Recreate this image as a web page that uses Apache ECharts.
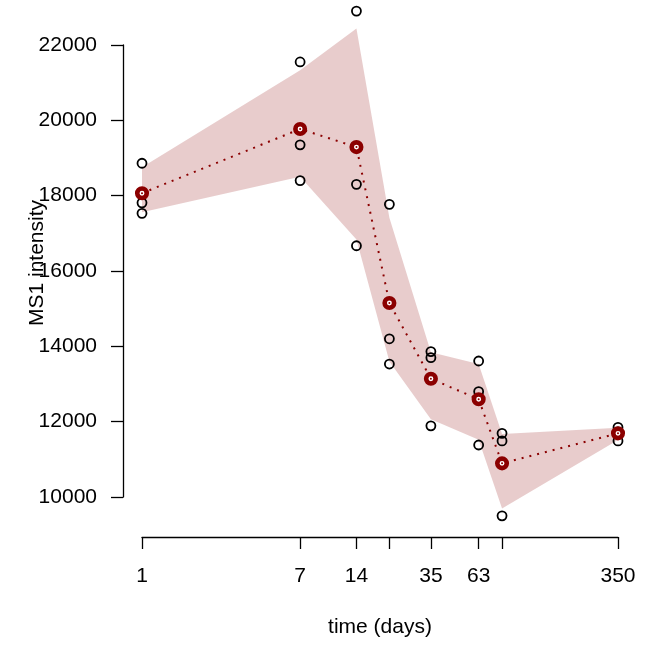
<!DOCTYPE html>
<html><head><meta charset="utf-8">
<script src="https://cdn.jsdelivr.net/npm/echarts@6/dist/echarts.min.js"></script>
<style>html,body{margin:0;padding:0;background:#fff}#c{width:655px;height:647px}</style>
</head><body><div id="c"></div>
<script>
// time points (days)
const days = [1, 7, 14, 21, 35, 63, 84, 350];
const tickDays = [1, 7, 14, 21, 35, 63, 84, 350];
const labelDays = [1, 7, 14, 35, 63, 350];
const yTickMin = 10000, yTickMax = 22000, yTickStep = 2000;
// replicate MS1 intensities
const rep1 = [18860, 21550, 22900, 17770, 13860, 13610, 11690, 11850];
const rep2 = [17810, 19350, 18300, 14200, 13700, 12800, 11490, 11730];
const rep3 = [17530, 18400, 16670, 13530, 11890, 11380, 9500, 11490];
// mean per time point
const meanVals = [18065, 19770, 19290, 15150, 13140, 12595, 10893, 11690];
// ribbon (5%..95%)
const bandLow  = [17560, 18500, 16835, 13600, 12066, 11523, 9695, 11514];
const bandHigh = [18754, 21330, 22436, 17413, 13842, 13530, 11671, 11838];

const lx = days.map(d => Math.log10(d));
const FONT = "'Liberation Sans', Arial, Helvetica, sans-serif";
const FS = 21;

const chart = echarts.init(document.getElementById('c'), null, {renderer: 'canvas'});

const repPoints = [];
[rep1, rep2, rep3].forEach(r => r.forEach((v, i) => repPoints.push([lx[i], v])));

chart.setOption({
  animation: false,
  backgroundColor: '#ffffff',
  grid: {left: 142, right: 37, top: 45, bottom: 150, containLabel: false},
  xAxis: {
    type: 'value',
    min: 0, max: Math.log10(350),
    offset: 40,
    axisLine: {show: true, onZero: false, lineStyle: {color: '#000', width: 1.3}},
    axisTick: {show: true, length: 12, lineStyle: {color: '#000', width: 1.3},
      customValues: tickDays.map(d => Math.log10(d))},
    axisLabel: {show: true, margin: 29, color: '#000', fontFamily: FONT, fontSize: FS,
      customValues: labelDays.map(d => Math.log10(d)),
      formatter: v => String(Math.round(Math.pow(10, v)))},
    splitLine: {show: false}
  },
  yAxis: {
    type: 'value',
    min: yTickMin, max: yTickMax, interval: yTickStep,
    offset: 19,
    axisLine: {show: true, onZero: false, lineStyle: {color: '#000', width: 1.3}},
    axisTick: {show: true, length: 12, lineStyle: {color: '#000', width: 1.3}},
    axisLabel: {show: true, margin: 26, color: '#000', fontFamily: FONT, fontSize: FS,
      formatter: v => String(v)},
    splitLine: {show: false}
  },
  graphic: [
    {type: 'text', x: 380, y: 627, z: 10,
      style: {text: 'time (days)', fill: '#000', font: FS + 'px ' + FONT, align: 'center', verticalAlign: 'middle'}},
    {type: 'text', x: 37, y: 263, rotation: Math.PI / 2, z: 10,
      style: {text: 'MS1 intensity', fill: '#000', font: FS + 'px ' + FONT, align: 'center', verticalAlign: 'middle'}}
  ],
  series: [
    {
      type: 'custom',
      coordinateSystem: 'cartesian2d',
      clip: false,
      silent: true,
      z: 1,
      data: days.map((d, i) => [lx[i], bandLow[i], bandHigh[i]]),
      encode: {x: 0, y: [1, 2]},
      renderItem: function (params, api) {
        if (params.dataIndex !== 0) return null;
        const pts = [];
        for (let i = 0; i < days.length; i++) pts.push(api.coord([lx[i], bandHigh[i]]));
        for (let i = days.length - 1; i >= 0; i--) pts.push(api.coord([lx[i], bandLow[i]]));
        return {type: 'polygon', shape: {points: pts}, style: {fill: 'rgba(139,0,0,0.2)', stroke: null}};
      }
    },
    {
      type: 'line',
      clip: false,
      silent: true,
      z: 2,
      symbol: 'none',
      data: days.map((d, i) => [lx[i], meanVals[i]]),
      lineStyle: {color: '#8B0000', width: 2, type: [2, 6], cap: 'butt'}
    },
    {
      type: 'scatter',
      clip: false,
      silent: true,
      z: 3,
      symbol: 'circle',
      symbolSize: 9,
      data: repPoints,
      itemStyle: {color: 'rgba(0,0,0,0)', borderColor: '#000', borderWidth: 1.8, opacity: 1}
    },
    {
      type: 'scatter',
      clip: false,
      silent: true,
      z: 4,
      symbol: 'circle',
      symbolSize: 9.5,
      data: days.map((d, i) => [lx[i], meanVals[i]]),
      itemStyle: {color: '#ffffff', borderColor: '#8B0000', borderWidth: 4.6, opacity: 1}
    },
    {
      type: 'scatter',
      clip: false,
      silent: true,
      z: 5,
      symbol: 'circle',
      symbolSize: 2,
      data: days.map((d, i) => [lx[i], meanVals[i]]),
      itemStyle: {color: '#8B0000', opacity: 1}
    }
  ]
});
</script>
</body></html>
